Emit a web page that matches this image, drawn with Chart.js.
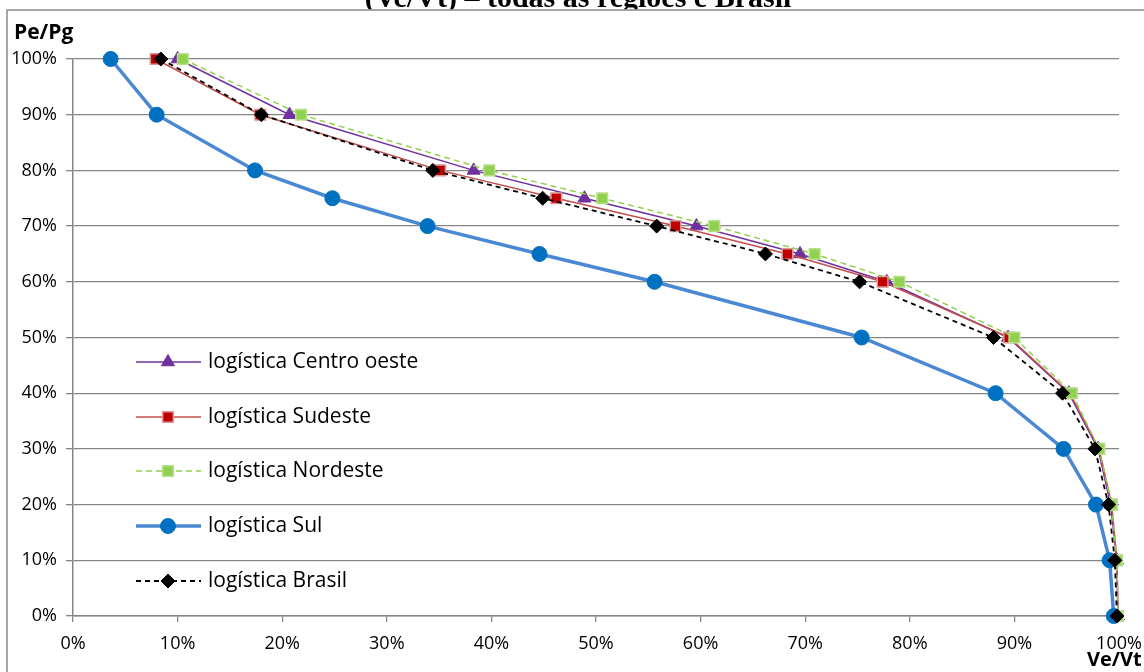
<!DOCTYPE html>
<html>
<head>
<meta charset="utf-8">
<script src="https://cdn.jsdelivr.net/npm/chart.js@4.4.1/dist/chart.umd.min.js"></script>
<style>
  html, body { margin: 0; padding: 0; background: #ffffff; }
  #wrap { width: 1144px; height: 672px; position: relative; overflow: hidden; }
</style>
</head>
<body>
<div id="wrap"><canvas id="c" width="1144" height="672"></canvas></div>
<script>
// Pe/Pg levels (%) shared by every curve
const peLevels = [100, 90, 80, 75, 70, 65, 60, 50, 40, 30, 20, 10, 0];

// Ve/Vt (%) for each region at the levels above
const centroOeste = [10.0, 20.7, 38.3, 48.9, 59.6, 69.5, 77.8, 89.4, 95.2, 98.0, 99.2, 99.8, 99.9];
const sudeste     = [7.9, 17.9, 35.1, 46.2, 57.6, 68.3, 77.4, 89.5, 95.3, 98.1, 99.3, 99.8, 99.9];
const nordeste    = [10.5, 21.8, 39.8, 50.6, 61.3, 70.9, 79.0, 90.0, 95.5, 98.1, 99.3, 99.8, 99.9];
const sul         = [3.6, 8.0, 17.4, 24.8, 33.9, 44.6, 55.6, 75.4, 88.2, 94.7, 97.8, 99.1, 99.5];
const brasil      = [8.4, 18.0, 34.4, 44.9, 55.8, 66.2, 75.2, 88.0, 94.6, 97.7, 99.0, 99.6, 99.8];

const seriesNames = ['logística Centro oeste', 'logística Sudeste', 'logística Nordeste', 'logística Sul', 'logística Brasil'];
const xTickValues = [0, 10, 20, 30, 40, 50, 60, 70, 80, 90, 100];

const titleText = '(Ve/Vt) – todas as regiões e Brasil';
const yAxisTitle = 'Pe/Pg';
const xAxisTitle = 'Ve/Vt';

const GRID = '#868686';
const FONT = "'Open Sans', 'Noto Sans', sans-serif";

function points(xs) {
  return xs.map((x, i) => ({ x: x, y: peLevels[i] }));
}

const datasets = [
  {
    label: seriesNames[0], data: points(centroOeste),
    borderColor: '#7030A0', borderWidth: 1.5,
    pointStyle: 'triangle', pointRadius: 7.5,
    pointBackgroundColor: '#7030A0', pointBorderColor: '#7030A0', pointBorderWidth: 1,
    order: 5
  },
  {
    label: seriesNames[1], data: points(sudeste),
    borderColor: '#C0504D', borderWidth: 1.5,
    pointStyle: 'rect', pointRadius: 7.5,
    pointBackgroundColor: '#C00000', pointBorderColor: '#D99694', pointBorderWidth: 1.5,
    order: 4
  },
  {
    label: seriesNames[2], data: points(nordeste),
    borderColor: '#92D050', borderWidth: 1.5, borderDash: [6, 4],
    pointStyle: 'rect', pointRadius: 7.5,
    pointBackgroundColor: '#92D050', pointBorderColor: '#B5DF8A', pointBorderWidth: 1.5,
    order: 3
  },
  {
    label: seriesNames[3], data: points(sul),
    borderColor: '#4A88D4', borderWidth: 3.5,
    pointStyle: 'circle', pointRadius: 7.5,
    pointBackgroundColor: '#0070C0', pointBorderColor: '#0070C0', pointBorderWidth: 1,
    order: 2
  },
  {
    label: seriesNames[4], data: points(brasil),
    borderColor: '#000000', borderWidth: 1.8, borderDash: [5, 4],
    pointStyle: 'rectRot', pointRadius: 7,
    pointBackgroundColor: '#000000', pointBorderColor: '#000000', pointBorderWidth: 1,
    order: 1
  }
];

datasets.forEach(d => {
  d.showLine = true;
  d.fill = false;
  d.tension = 0;
  d.clip = false;
});

// Frame, heading strip, axis titles and the in-plot legend
const decor = {
  id: 'decor',
  afterDraw(chart) {
    const ctx = chart.ctx;
    ctx.save();

    // heading: only the strip above the chart frame shows
    ctx.save();
    ctx.beginPath();
    ctx.rect(0, 0, chart.width, 9.5);
    ctx.clip();
    ctx.fillStyle = '#000000';
    ctx.font = "bold 30px 'Liberation Serif', serif";
    ctx.textAlign = 'center';
    ctx.textBaseline = 'alphabetic';
    ctx.fillText(titleText, 578, 7);
    ctx.restore();

    // outer frame of the chart object
    ctx.strokeStyle = '#8C8C8C';
    ctx.lineWidth = 1.5;
    ctx.beginPath();
    ctx.moveTo(7, 700);
    ctx.lineTo(7, 10);
    ctx.lineTo(1150, 10);
    ctx.stroke();

    // axis titles
    ctx.fillStyle = '#000000';
    ctx.font = 'bold 21px ' + FONT;
    ctx.textAlign = 'left';
    ctx.textBaseline = 'middle';
    ctx.fillText(yAxisTitle, 14, 33);
    ctx.font = 'bold 20px ' + FONT;
    ctx.fillText(xAxisTitle, 1087, 660);

    // legend
    const rowsY = [362, 417, 471, 526, 581];
    const x0 = 136, x1 = 201, xm = 168, xt = 208;
    ctx.font = '21px ' + FONT;
    chart.data.datasets.forEach((ds, i) => {
      const y = rowsY[i];
      ctx.save();
      ctx.strokeStyle = ds.borderColor;
      ctx.lineWidth = ds.borderWidth;
      ctx.setLineDash(ds.borderDash || []);
      ctx.beginPath();
      ctx.moveTo(x0, y);
      ctx.lineTo(x1, y);
      ctx.stroke();
      ctx.setLineDash([]);
      ctx.fillStyle = ds.pointBackgroundColor;
      ctx.strokeStyle = ds.pointBorderColor;
      ctx.lineWidth = ds.pointBorderWidth;
      Chart.helpers.drawPoint(ctx, {
        pointStyle: ds.pointStyle, radius: ds.pointRadius, rotation: 0, borderWidth: ds.pointBorderWidth
      }, xm, y);
      ctx.restore();
      ctx.fillStyle = '#000000';
      ctx.textAlign = 'left';
      ctx.textBaseline = 'middle';
      ctx.fillText(ds.label, xt, y);
    });

    ctx.restore();
  }
};

new Chart(document.getElementById('c'), {
  type: 'scatter',
  data: { datasets: datasets },
  options: {
    responsive: false,
    animation: false,
    devicePixelRatio: 1,
    layout: { padding: { top: 59, left: 0, right: 25, bottom: 0 } },
    plugins: { legend: { display: false }, tooltip: { enabled: false }, title: { display: false } },
    scales: {
      x: {
        type: 'linear', min: 0, max: 100,
        afterBuildTicks(scale) { scale.ticks = xTickValues.map(v => ({ value: v })); },
        afterFit(scale) { scale.height = 56; scale.paddingLeft = 0; scale.paddingRight = 0; },
        ticks: {
          callback: v => v + '%',
          color: '#000000', font: { family: FONT, size: 18 }, padding: 11, maxRotation: 0, autoSkip: false
        },
        grid: { drawOnChartArea: false, drawTicks: true, tickLength: 6, color: GRID, lineWidth: 1.3 },
        border: { display: true, color: GRID, width: 1.5 }
      },
      y: {
        type: 'linear', min: 0, max: 100,
        afterBuildTicks(scale) { scale.ticks = peLevels.filter(v => v % 10 === 0).sort((a, b) => a - b).map(v => ({ value: v })); },
        afterFit(scale) { scale.width = 73; scale.paddingTop = 0; scale.paddingBottom = 0; },
        ticks: {
          callback: v => v + '%',
          color: '#000000', font: { family: FONT, size: 18 }, padding: 9, autoSkip: false
        },
        grid: { drawOnChartArea: true, drawTicks: true, tickLength: 7, color: GRID, lineWidth: 1.3 },
        border: { display: true, color: GRID, width: 1.5 }
      }
    }
  },
  plugins: [decor]
});
</script>
</body>
</html>
